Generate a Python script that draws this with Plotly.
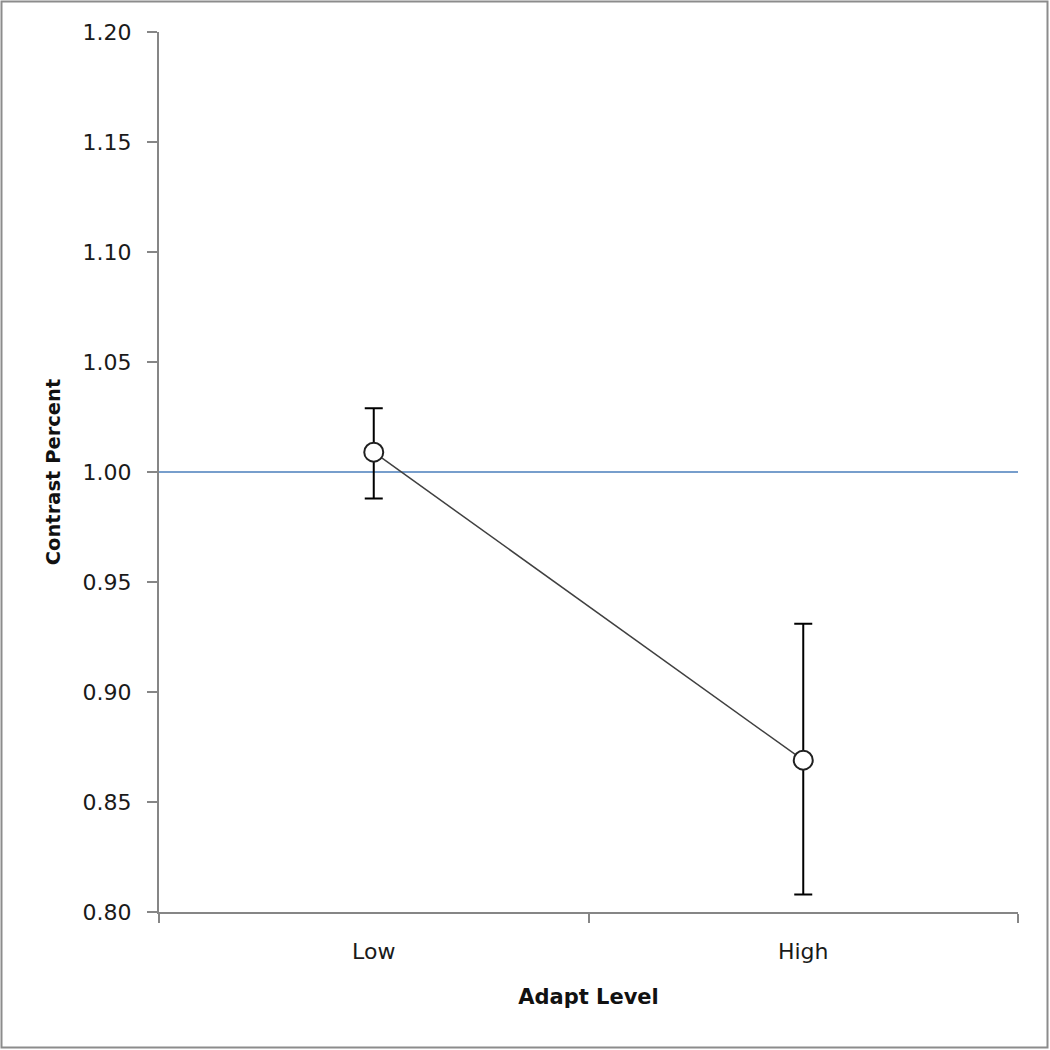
import plotly.graph_objects as go

categories = ["Low", "High"]
means = [1.009, 0.869]
err_plus = [0.020, 0.062]
err_minus = [0.021, 0.061]
reference_value = 1.00
y_ticks = [0.80, 0.85, 0.90, 0.95, 1.00, 1.05, 1.10, 1.15, 1.20]

W, H = 1050, 1050
L, R, T, B = 159, 32, 32, 138
pw, ph = W - L - R, H - T - B

fig = go.Figure()

fig.add_trace(go.Scatter(
    x=categories, y=means,
    mode="lines+markers",
    line=dict(color="#404040", width=1.5),
    marker=dict(symbol="circle", size=19, color="white",
                line=dict(color="#202020", width=2)),
    error_y=dict(type="data", symmetric=False, array=err_plus, arrayminus=err_minus,
                 color="black", thickness=2, width=9),
    showlegend=False,
))

fig.add_shape(type="line", xref="paper", yref="y", x0=0, x1=1,
              y0=reference_value, y1=reference_value,
              line=dict(color="#4A7EBB", width=1.5), layer="below")

# outer border
fig.add_shape(type="rect", xref="paper", yref="paper",
              x0=(1.5 - L) / pw, x1=(W - 2.5 - L) / pw,
              y0=(H - B - (H - 2.5)) / ph, y1=(H - B - 1.5) / ph,
              line=dict(color="#8c8c8c", width=2), fillcolor="rgba(0,0,0,0)")

font_family = "DejaVu Sans"
fig.update_layout(
    width=W, height=H,
    margin=dict(l=L, r=R, t=T, b=B),
    paper_bgcolor="white", plot_bgcolor="white",
    font=dict(family=font_family, size=22, color="#1a1a1a"),
    xaxis=dict(
        type="category", range=[-0.5, 1.5],
        showline=True, linecolor="#868686", linewidth=2,
        ticks="outside", tickson="boundaries", ticklen=9, tickcolor="#868686", tickwidth=2,
        showgrid=False, zeroline=False,
        tickfont=dict(size=22), ticklabelstandoff=19,
        title=dict(text="<b>Adapt Level</b>", font=dict(size=21, color="#111"), standoff=26),
    ),
    yaxis=dict(
        range=[0.80, 1.20], tickvals=y_ticks,
        ticktext=[f"{v:.2f}" for v in y_ticks],
        showline=True, linecolor="#868686", linewidth=2,
        ticks="outside", ticklen=10, tickcolor="#868686", tickwidth=2,
        showgrid=False, zeroline=False,
        tickfont=dict(size=22), ticklabelstandoff=11,
        title=dict(text="<b>Contrast Percent</b>", font=dict(size=19.5, color="#111"), standoff=17),
    ),
)

fig.write_html("out.html", config={"displayModeBar": False},
               post_script="document.body.style.margin='0';")
